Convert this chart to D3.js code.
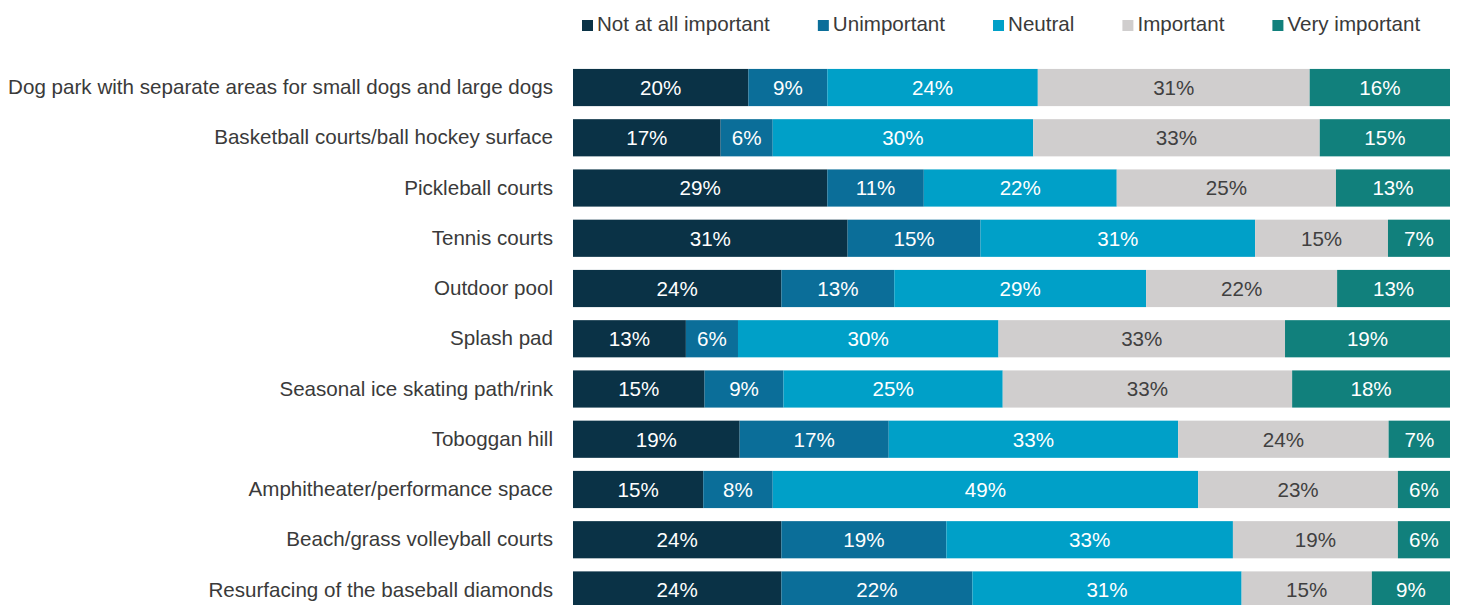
<!DOCTYPE html>
<html>
<head>
<meta charset="utf-8">
<script src="https://cdn.jsdelivr.net/npm/d3@7"></script>
<style>
  body { margin: 0; background: #fff; }
  svg { display: block; font-family: "Liberation Sans", Arial, sans-serif; }
</style>
</head>
<body>
<div id="chart"></div>
<script>
// categories (top to bottom)
const categories = [
    "Dog park with separate areas for small dogs and large dogs",
    "Basketball courts/ball hockey surface",
    "Pickleball courts",
    "Tennis courts",
    "Outdoor pool",
    "Splash pad",
    "Seasonal ice skating path/rink",
    "Toboggan hill",
    "Amphitheater/performance space",
    "Beach/grass volleyball courts",
    "Resurfacing of the baseball diamonds"
];

const seriesNames = ["Not at all important", "Unimportant", "Neutral", "Important", "Very important"];

// percentages per series, in category order
const notAtAll   = [20, 17, 29, 31, 24, 13, 15, 19, 15, 24, 24];
const unimportant = [9, 6, 11, 15, 13, 6, 9, 17, 8, 19, 22];
const neutral    = [24, 30, 22, 31, 29, 30, 25, 33, 49, 33, 31];
const important  = [31, 33, 25, 15, 22, 33, 33, 24, 23, 19, 15];
const veryImportant = [16, 15, 13, 7, 13, 19, 18, 7, 6, 6, 9];

const seriesValues = [notAtAll, unimportant, neutral, important, veryImportant];
const colors = ["#0a3246", "#0b6e99", "#00a0c8", "#d0cece", "#11807c"];
const labelColors = ["#ffffff", "#ffffff", "#ffffff", "#404040", "#ffffff"];

const W = 1458, H = 605;
const fontSize = "20.6px";

//build table for d3.stack
const table = categories.map((c, i) => {
    const row = {category: c};
    seriesNames.forEach((s, j) => row[s] = seriesValues[j][i]);
    return row;
});

const stack = d3.stack()
    .keys(seriesNames)
    .offset(d3.stackOffsetExpand)(table);

const svg = d3.select("#chart")
    .append("svg")
    .attr("width", W)
    .attr("height", H);

const xScale = d3.scaleLinear()
    .domain([0, 1])
    .range([573, 1450]);

const yScale = d3.scaleBand()
    .domain(categories)
    .range([62.4, 615.1])
    .paddingInner(0.26)
    .paddingOuter(0.13);

const color = d3.scaleOrdinal().domain(seriesNames).range(colors);
const labelColor = d3.scaleOrdinal().domain(seriesNames).range(labelColors);

//bars
const groups = svg.selectAll("g.series")
    .data(stack)
    .enter()
    .append("g")
    .attr("class", "series")
    .attr("fill", d => color(d.key));

groups.selectAll("rect")
    .data(d => d)
    .enter()
    .append("rect")
    .attr("x", d => xScale(d[0]))
    .attr("y", d => yScale(d.data.category))
    .attr("width", d => xScale(d[1]) - xScale(d[0]))
    .attr("height", yScale.bandwidth());

//value labels
stack.forEach(s => {
    svg.append("g")
        .selectAll("text")
        .data(s)
        .enter()
        .append("text")
        .attr("x", d => (xScale(d[0]) + xScale(d[1])) / 2)
        .attr("y", d => yScale(d.data.category) + yScale.bandwidth() / 2)
        .attr("dy", "0.36em")
        .attr("text-anchor", "middle")
        .attr("font-size", fontSize)
        .attr("fill", labelColor(s.key))
        .text(d => d.data[s.key] + "%");
});

//category axis
const yAxis = svg.append("g")
    .attr("transform", "translate(573,0)")
    .call(d3.axisLeft(yScale).tickSize(0).tickPadding(20));
yAxis.select(".domain").remove();
yAxis.selectAll("text")
    .attr("font-size", fontSize)
    .attr("font-family", "Liberation Sans, Arial, sans-serif")
    .attr("fill", "#3a3a3a");

//legend
const legend = svg.append("g")
    .attr("transform", "translate(582, 31)");

let lx = 0;
seriesNames.forEach(name => {
    const item = legend.append("g").attr("transform", `translate(${lx},0)`);
    item.append("rect")
        .attr("x", 0)
        .attr("y", -11)
        .attr("width", 11)
        .attr("height", 11)
        .attr("fill", color(name));
    const t = item.append("text")
        .attr("x", 15)
        .attr("y", 0)
        .attr("font-size", fontSize)
        .attr("fill", "#3a3a3a")
        .text(name);
    lx += 15 + t.node().getComputedTextLength() + 48;
});
</script>
</body>
</html>
